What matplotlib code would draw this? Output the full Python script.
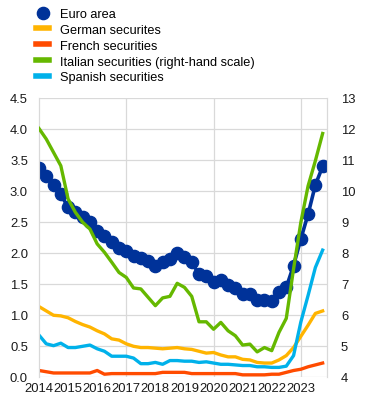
import numpy as np
import matplotlib
matplotlib.use('Agg')
import matplotlib.pyplot as plt
from matplotlib.lines import Line2D

plt.rcParams['font.family'] = ['Liberation Sans', 'DejaVu Sans']

# quarterly observations, 2014 Q1 .. 2023 Q4
quarters = 2014 + np.arange(40) / 4

euro_area = [3.36, 3.23, 3.09, 2.94, 2.73, 2.65, 2.57, 2.49, 2.35, 2.27,
             2.17, 2.07, 2.02, 1.94, 1.92, 1.87, 1.79, 1.85, 1.89, 1.99,
             1.93, 1.85, 1.65, 1.63, 1.53, 1.56, 1.48, 1.43, 1.33, 1.33,
             1.24, 1.24, 1.22, 1.36, 1.44, 1.79, 2.22, 2.62, 3.09, 3.39]
german = [1.13, 1.06, 0.99, 0.98, 0.95, 0.89, 0.84, 0.80, 0.74, 0.69,
          0.61, 0.59, 0.53, 0.49, 0.47, 0.47, 0.46, 0.45, 0.46, 0.47,
          0.45, 0.44, 0.41, 0.38, 0.39, 0.35, 0.32, 0.32, 0.28, 0.27,
          0.23, 0.22, 0.22, 0.27, 0.34, 0.47, 0.65, 0.83, 1.02, 1.06]
french = [0.10, 0.08, 0.06, 0.06, 0.06, 0.06, 0.06, 0.06, 0.10, 0.04,
          0.05, 0.05, 0.05, 0.05, 0.05, 0.05, 0.05, 0.07, 0.07, 0.07,
          0.07, 0.05, 0.05, 0.05, 0.05, 0.05, 0.05, 0.05, 0.03, 0.03,
          0.03, 0.03, 0.04, 0.04, 0.07, 0.10, 0.12, 0.16, 0.19, 0.22]
spanish = [0.67, 0.53, 0.50, 0.54, 0.47, 0.47, 0.49, 0.51, 0.45, 0.41,
           0.33, 0.33, 0.33, 0.30, 0.21, 0.21, 0.23, 0.20, 0.26, 0.26,
           0.25, 0.25, 0.23, 0.24, 0.22, 0.20, 0.20, 0.19, 0.18, 0.18,
           0.16, 0.16, 0.15, 0.15, 0.17, 0.34, 0.88, 1.31, 1.76, 2.04]
italian = [12.0, 11.66, 11.23, 10.80, 9.73, 9.30, 8.98, 8.76, 8.28, 8.01,
           7.69, 7.36, 7.20, 6.86, 6.83, 6.56, 6.29, 6.54, 6.59, 7.01,
           6.88, 6.59, 5.77, 5.77, 5.53, 5.75, 5.48, 5.32, 5.02, 5.05,
           4.80, 4.94, 4.84, 5.43, 5.88, 7.47, 8.97, 10.15, 10.96, 11.84]

years = list(range(2014, 2024))
labels = ['Euro area', 'German securites', 'French securities',
          'Italian securities (right-hand scale)', 'Spanish securities']
c_euro, c_de, c_fr, c_it, c_es = '#003299', '#FFB400', '#FF4B00', '#65B800', '#00B1EA'
grid_c = '#d9d9d9'

W, H = 372, 406
fig = plt.figure(figsize=(W / 100, H / 100), dpi=100)
left, right, top, bottom = 39, 327, 98.5, 377.7
ax = fig.add_axes([left / W, (H - bottom) / H, (right - left) / W, (bottom - top) / H])
ax2 = ax.twinx()

ax.plot(quarters, german, color=c_de, lw=2.4, zorder=3)
ax.plot(quarters, french, color=c_fr, lw=2.4, zorder=3)
ax.plot(quarters, spanish, color=c_es, lw=2.4, zorder=3)
ax.plot(quarters, euro_area, color=c_euro, lw=2.6, marker='o', ms=8.8, zorder=4)
ax2.plot(quarters, italian, color=c_it, lw=2.4, zorder=5)

ax.set_xlim(2014, 2023.9)
ax.set_ylim(0, 4.5)
ax2.set_ylim(4, 13)
ax.set_yticks(np.arange(0, 4.51, 0.5))
ax.set_yticklabels([f'{v:.1f}' for v in np.arange(0, 4.51, 0.5)])
ax2.set_yticks(range(4, 14))
ax.set_xticks(years)
ax.set_xticklabels([str(y) for y in years])

ax.grid(axis='y', color=grid_c, lw=0.9)
for y in (2017, 2020, 2023):
    ax.axvline(y, color=grid_c, lw=0.9, zorder=0)
ax.set_axisbelow(True)

for a in (ax, ax2):
    for s in ('top', 'bottom'):
        a.spines[s].set_visible(False)
    for s in ('left', 'right'):
        a.spines[s].set_color(grid_c)
    a.tick_params(length=0, labelsize=9.4, colors='#1a1a1a')
ax.tick_params(axis='y', pad=8)
ax2.tick_params(axis='y', pad=10)
ax.tick_params(axis='x', pad=4)

handles = [Line2D([], [], color=c_euro, marker='o', ms=8.8, lw=0),
           Line2D([], [], color=c_de, lw=4),
           Line2D([], [], color=c_fr, lw=4),
           Line2D([], [], color=c_it, lw=4),
           Line2D([], [], color=c_es, lw=4)]
fig.legend(handles, labels, loc='upper left', bbox_to_anchor=(31 / W, 1 - 4 / H),
           frameon=False, fontsize=9.2, handlelength=1.0, handletextpad=0.9,
           labelspacing=0.3, borderaxespad=0)

fig.savefig('out.png', dpi=100)
